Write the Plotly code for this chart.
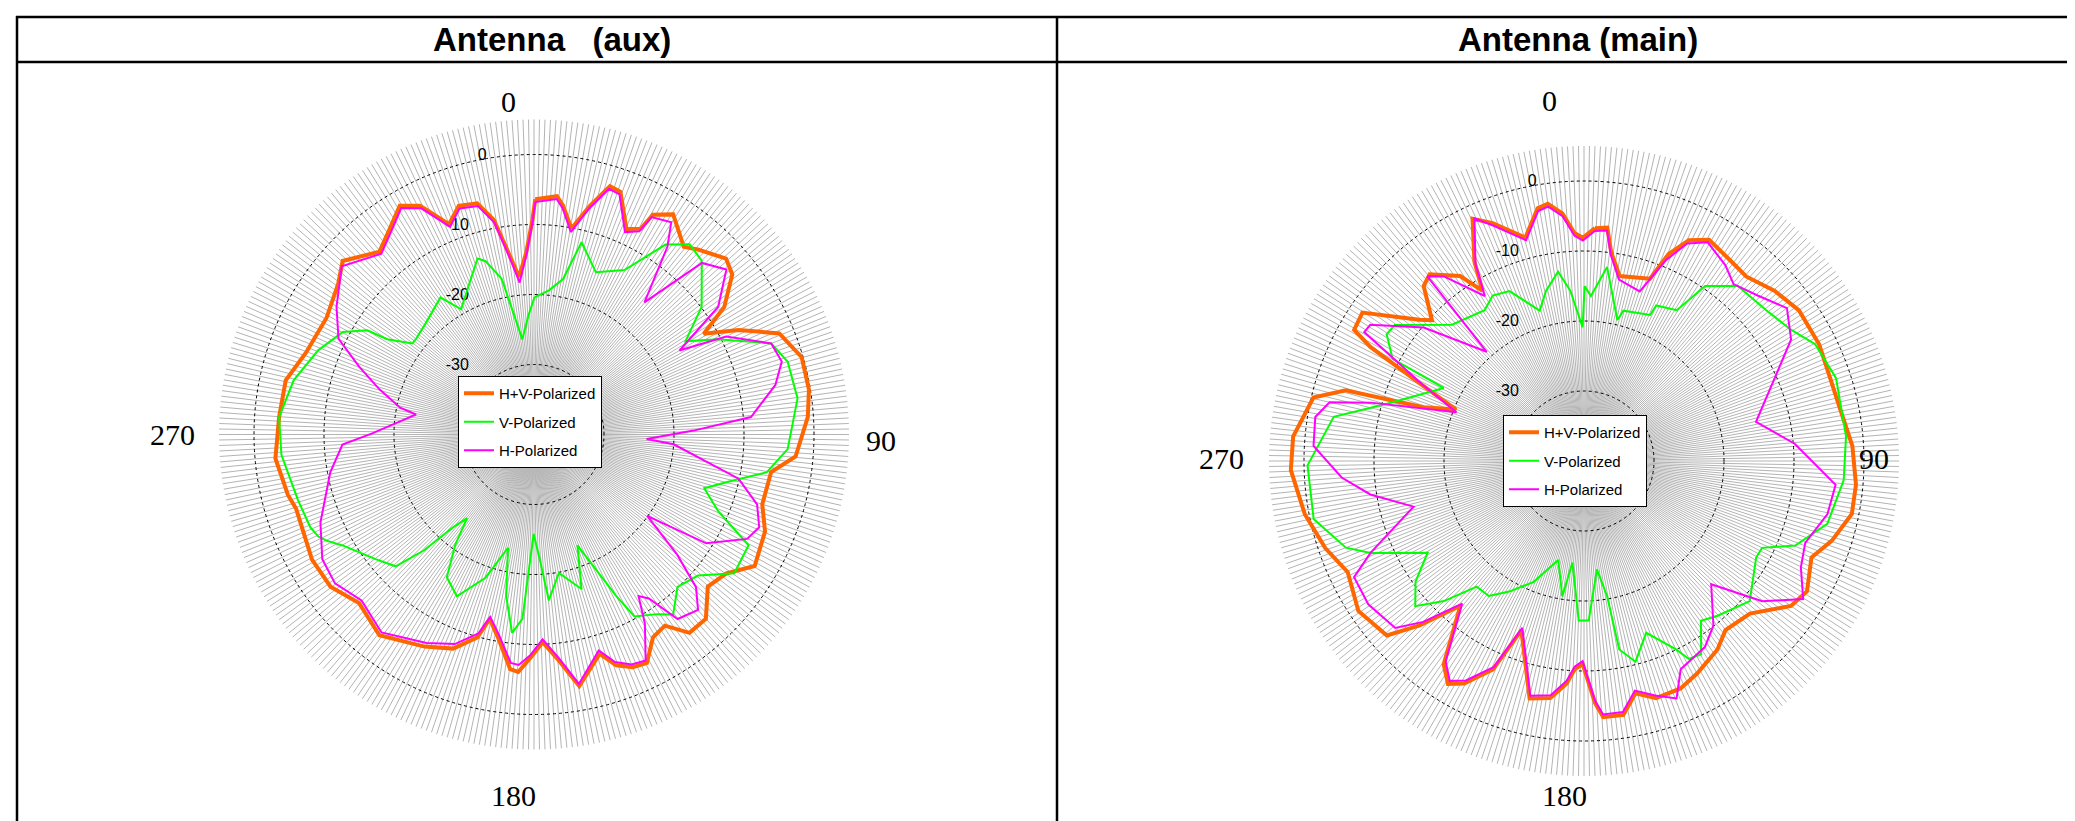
import plotly.graph_objects as go

W, H = 2075, 821

# ---------------- data (dB vs angle in degrees, 0 = top, clockwise) ----------------
# Antenna (aux)
aux_hv_theta = [0.3, 5.5, 7.2, 10.3, 13.7, 17, 19.6, 24.2, 27.4, 28.4, 32.3, 38.6, 41.5, 47.5, 51.1, 56.2, 59.3,
                62.9, 67.6, 73.9, 80.7, 86.3, 94.8, 99, 107, 112.8, 120.8, 125.8, 131.2, 137, 141.9, 145.6,
                149.6, 153.7, 157, 160.4, 163.3, 169.8, 173.7, 177.6, 180.9, 183.8, 185.8, 190, 193.5, 195.6,
                200.7, 207.3, 217.6, 226.1, 233.2, 240.6, 252.7, 256.2, 264.7, 273.9, 282.3, 289.8, 299.3,
                307.6, 312.2, 319.8, 325, 329.6, 333.5, 338, 341.8, 346.2, 349.4, 351.9, 354.6, 357.6, 359.6]
aux_hv_db = [-6.4, -5.8, -7.0, -10.1, -6.4, -2.9, -3.2, -7.8, -6.9, -4.3, -2.8, -5.7, -4.7, -2.8, -3.6, -7.3, -11.8,
             -7.2, -2.1, -0.2, -0.2, -0.8, -2.5, -5.7, -5.9, -4.2, -3.3, -6.1, -7.0, -4.0, -4.0, -6.9,
             -6.4, -3.6, -3.9, -5.0, -7.3, -3.5, -7.5, -10.3, -8.1, -6.0, -6.3, -10.5, -12.9, -9.9,
             -7.3, -5.9, -3.8, -5.3, -3.7, -3.6, -4.4, -3.8, -2.9, -3.5, -3.7, -5.4, -6.0,
             -4.7, -3.1, -5.8, -4.1, -2.1, -3.5, -7.6, -5.6, -6.0, -8.8, -13.6, -17.4, -13.9, -9.3]

aux_v_theta = [0.2, 5.9, 10.6, 13.9, 20.9, 28.8, 34.7, 39.3, 44, 52.7, 58.4, 62.6, 69, 74, 82.2, 93.3, 99.2,
               103.4, 107.5, 112.6, 117.3, 124.7, 130.7, 136.7, 142.3, 145.6, 151.1, 153, 158.6, 162.9, 169.8,
               174.9, 177, 180.2, 183.6, 186.3, 189.8, 192.9, 198.7, 205.5, 211.4, 215.5, 218.7, 221.1, 223.5,
               226.4, 231.8, 239.9, 242.9, 244.7, 247.5, 254.6, 265.4, 273.9, 282.7, 291.3, 298.2, 302, 303,
               306.8, 309, 315, 325.7, 329.8, 336.7, 342.2, 344.4, 348.3, 353, 357.3]
aux_v_db = [-20.4, -19.3, -17.4, -11.7, -15.2, -13.2, -7.0, -4.9, -5.5, -9.9, -14.6, -10.4, -3.7, -2.3, -2.0, -3.7, -6.3,
            -11.2, -14.5, -11.5, -5.5, -5.2, -9.1, -10.1, -7.5, -8.9, -10.3, -14.1, -23.0, -16.9, -19.9,
            -16.2, -21.5, -25.8, -13.6, -11.5, -16.6, -23.4, -18.4, -14.4, -16.1, -20.6, -24.7, -22.4, -17.2,
            -12.7, -11.2, -8.4, -6.7, -5.9, -5.4, -5.0, -3.8, -3.5, -4.8, -6.9, -9.0, -11.9, -15.0,
            -18.3, -18.3, -17.9, -16.3, -19.3, -16.6, -13.6, -14.3, -17.3, -26.3, -23.0]

aux_h_theta = [0.3, 5.5, 7.2, 10.3, 13.7, 17, 19.6, 24.2, 27.4, 28.4, 32.9, 35.4, 39.9, 44.4, 49.4, 55.3, 60,
               63, 69, 73.6, 78.4, 85.4, 88.6, 92.3, 94, 102.2, 107.4, 112.4, 116.1, 122.3, 125.7, 130,
               133.3, 136.9, 142.1, 145, 147.1, 149.6, 153.7, 157, 160.4, 163.3, 169.8, 173.7, 177.6, 180.9,
               183.8, 185.8, 190, 193.5, 195.6, 200.7, 207.3, 217.6, 226.1, 233.2, 239.5, 247.6, 259.5, 267,
               270.3, 275.5, 279.6, 281.3, 286.3, 291.2, 296.1, 302.9, 311.2, 319.8, 325, 329.6, 333.5, 338,
               341.8, 346.2, 349.4, 351.9, 354.6, 357.6, 359.6]
aux_h_db = [-6.8, -6.2, -7.4, -10.6, -6.8, -3.3, -3.6, -8.3, -7.3, -4.7, -3.9, -7.1, -15.4, -5.7, -3.8, -8.0, -16.0,
            -9.2, -3.7, -3.1, -4.8, -8.9, -17.2, -23.9, -20.0, -10.1, -6.6, -5.2, -6.1, -10.9, -20.1, -13.3,
            -8.2, -5.7, -6.6, -11.4, -12.5, -8.7, -4.0, -4.3, -5.5, -7.8, -3.8, -7.9, -10.7, -8.5,
            -7.0, -7.2, -11.0, -13.2, -10.5, -8.0, -6.5, -4.3, -5.8, -4.5, -4.9, -7.0, -10.4, -12.6,
            -16.8, -20.7, -22.9, -20.5, -17.0, -13.2, -8.9, -6.4, -3.5, -6.2, -4.5, -2.5, -3.9, -8.0,
            -6.0, -6.4, -9.2, -14.0, -18.2, -14.3, -9.7]

# Antenna (main)
main_hv_theta = [2.7, 5.7, 7.4, 10.9, 19.9, 22.2, 25.4, 29.5, 35.8, 41.3, 48.3, 55, 63.6, 72.5, 78.1, 86.8, 95,
                 101.2, 107.8, 113, 120.3, 125, 132.6, 140.1, 144.7, 152, 157, 163.1, 167.5, 171.2, 175.7, 177.4,
                 180.4, 182.6, 184.5, 188.1, 192.9, 200.3, 203.6, 208.3, 211.4, 214.6, 220.5, 225, 228.5, 236.4,
                 244.8, 251.4, 259.2, 268.2, 274.8, 283.2, 286.5, 288.5, 291.9, 295.3, 298.1, 299.7, 303.8,
                 310.6, 312.8, 317.5, 320.4, 326.2, 329.2, 331.2, 335.3, 339, 345.3, 349.6, 352, 355, 357.6, 359.7]
main_hv_db = [-6.7, -6.5, -9.9, -13.1, -12.3, -8.1, -5.1, -3.7, -4.5, -4.9, -3.5, -2.5, -2.5, -2.9, -2.7, -1.6, -1.0,
              -1.0, -2.8, -4.7, -3.1, -3.9, -7.8, -8.5, -7.0, -5.6, -4.7, -4.6, -6.0, -3.3, -3.3, -5.4,
              -11.0, -10.2, -8.1, -5.8, -5.2, -14.2, -7.5, -3.9, -2.7, -4.7, -12.8, -6.8, -2.4, -1.3,
              -2.7, -1.0, 0.6, 1.9, 1.7, -0.3, -4.5, -15.8, -20.3, -14.0, -5.4, -2.2, -1.9,
              -9.0, -10.4, -6.1, -5.4, -8.2, -11.7, -7.5, -1.9, -3.6, -7.0, -3.3, -2.9, -4.5, -7.4, -8.1]

main_v_theta = [0.2, 2.4, 6.8, 13.3, 14.7, 24.4, 24.9, 31.6, 34.7, 41.3, 50.5, 57.6, 63.2, 71.8, 84.6, 94.2, 104.5,
                111.8, 116, 119.3, 130.2, 139.2, 143.8, 148.8, 152.1, 153.9, 160.1, 165.6, 169.4, 170.3, 173.2,
                178.3, 181.9, 186.5, 189.1, 194.6, 202.6, 209.8, 215.2, 220.5, 225, 229.3, 234.4, 239.6, 246.7,
                250, 257.9, 269.1, 280, 286.8, 297.5, 298.1, 302.7, 305.7, 315.9, 326.6, 331.1, 336.3, 343.6,
                347.4, 352.2, 355.4, 359.4]
main_v_db = [-15.0, -16.4, -12.1, -19.3, -17.8, -17.1, -15.5, -14.7, -9.6, -6.7, -6.2, -5.0, -3.0, -2.1, -2.4, -2.8, -4.1,
             -7.5, -11.7, -11.8, -9.0, -10.8, -11.7, -7.7, -8.0, -10.0, -13.9, -10.4, -12.6, -20.4, -24.4,
             -17.2, -17.2, -25.4, -20.4, -25.4, -21.3, -18.5, -16.4, -16.4, -11.7, -8.2, -10.4, -14.1, -6.8,
             -3.8, -0.5, -0.5, -3.7, -11.2, -17.4, -9.0, -6.5, -6.7, -12.9, -14.2, -13.0, -13.5, -17.6,
             -15.1, -12.7, -15.6, -20.9]

main_h_theta = [2.7, 5.7, 7.4, 10.9, 18.2, 22.2, 25.4, 29.5, 35.8, 40.2, 46.5, 53, 59.6, 64.6, 77.2, 85.3, 95.4,
                102.3, 110.3, 116.1, 122.2, 128.2, 134.1, 141.8, 147, 155.1, 158.7, 163.1, 167.5, 171.2, 175.7,
                177.4, 180.4, 182.6, 184.5, 188.1, 192.9, 200.3, 203.6, 208.3, 211.4, 214.6, 220.5, 225, 228.5,
                236.4, 243.2, 246.7, 255, 261.1, 266.1, 273.2, 279.3, 283, 285.3, 290.9, 295.3, 300.4, 302.5,
                309.8, 318.3, 319.7, 322.8, 329, 331.2, 335.7, 339, 345.3, 349.6, 352, 355, 357.6, 359.7]
main_h_db = [-7.1, -6.9, -10.3, -13.6, -14.5, -9.0, -5.6, -4.1, -5.5, -6.9, -5.7, -3.7, -5.7, -9.2, -14.8, -9.8, -3.9,
             -4.4, -6.3, -5.5, -3.0, -7.6, -14.7, -10.1, -8.3, -7.2, -3.6, -5.0, -6.4, -3.7, -3.7,
             -5.8, -11.4, -10.6, -8.5, -6.2, -5.6, -14.6, -7.9, -4.4, -3.2, -5.2, -13.2, -7.5, -4.0,
             -3.0, -3.2, -6.8, -14.8, -9.1, -5.3, -1.3, -1.1, -2.7, -8.4, -20.5, -14.5, -3.6, -3.8,
             -10.2, -19.1, -5.4, -6.9, -12.5, -7.8, -2.0, -4.0, -7.4, -3.7, -3.3, -4.9, -7.8, -8.5]

series_names = ["H+V-Polarized", "V-Polarized", "H-Polarized"]
series_colors = ["#FF6600", "#00FF00", "#FF00FF"]
series_widths = [4, 2, 2]

radial_ticks = [-30, -20, -10, 0]
radial_ticktext = ["-30", "-20", "-10", "0"]
angle_labels = ["0", "90", "180", "270"]
panel_titles = ["Antenna\u00a0\u00a0\u00a0(aux)", "Antenna (main)"]

# ---------------- figure ----------------
fig = go.Figure()

panels = [
    ("polar", "legend", [(aux_hv_theta, aux_hv_db), (aux_v_theta, aux_v_db), (aux_h_theta, aux_h_db)]),
    ("polar2", "legend2", [(main_hv_theta, main_hv_db), (main_v_theta, main_v_db), (main_h_theta, main_h_db)]),
]
for sub, leg, series in panels:
    for i, (th, r) in enumerate(series):
        fig.add_trace(go.Scatterpolar(
            theta=list(th) + [th[0]], r=list(r) + [r[0]],
            mode="lines", name=series_names[i],
            line=dict(color=series_colors[i], width=series_widths[i]),
            subplot=sub, legend=leg, legendgroup=sub + str(i),
            hoverinfo="skip",
        ))


def px_x(x):
    return x / W


def px_y(y):
    return 1 - y / H


# Excel-style value labels sit to the left of the vertical axis: pad with figure spaces
pad = "\u2007"
tick_labels_padded = [t + pad * (5 if len(t) == 1 else 7) for t in radial_ticktext]


def polar_cfg(cx, cy, rad):
    return dict(
        domain=dict(x=[px_x(cx - rad), px_x(cx + rad)], y=[px_y(cy + rad), px_y(cy - rad)]),
        bgcolor="white",
        radialaxis=dict(range=[-40, 5], tickmode="array", tickvals=radial_ticks, ticktext=tick_labels_padded,
                        angle=90, tickangle=90, side="counterclockwise", showline=False, ticks="",
                        gridcolor="black", gridwidth=1, griddash="dot", layer="below traces",
                        tickfont=dict(family="Arial", size=16, color="black")),
        angularaxis=dict(rotation=90, direction="clockwise", tickmode="array", tickvals=list(range(360)),
                         showticklabels=False, ticks="", showline=False, gridcolor="#b4b4b4", gridwidth=1.2,
                         layer="below traces"),
    )


legend_common = dict(bgcolor="white", bordercolor="black", borderwidth=1,
                     font=dict(family="Arial", size=15, color="black"),
                     xanchor="left", yanchor="top", tracegroupgap=6, itemwidth=30)

fig.update_layout(
    width=W, height=H, margin=dict(l=0, r=0, t=0, b=0),
    paper_bgcolor="white", plot_bgcolor="white",
    showlegend=True,
    polar=polar_cfg(526, 426.5, 315),
    polar2=polar_cfg(1576, 453, 315),
    legend=dict(x=px_x(450), y=px_y(368), **legend_common),
    legend2=dict(x=px_x(1495), y=px_y(407), **legend_common),
)

# table borders
lines = [
    (8, 9, W, 9), (8, 54, W, 54), (9, 8, 9, H), (1049, 8, 1049, H),
]
for x0, y0, x1, y1 in lines:
    fig.add_shape(type="line", xref="paper", yref="paper", x0=px_x(x0), y0=px_y(y0), x1=px_x(x1), y1=px_y(y1),
                  line=dict(color="black", width=2.5))

# titles
for txt, cx in zip(panel_titles, [544, 1570]):
    fig.add_annotation(text="<b>" + txt + "</b>", xref="paper", yref="paper", x=px_x(cx), y=px_y(31),
                       showarrow=False, font=dict(family="Arial", size=33, color="black"),
                       xanchor="center", yanchor="middle")

# angle labels
aux_pos = [(500, 93), (873, 432), (505, 787), (164, 427)]
main_pos = [(1541, 92), (1866, 450), (1556, 787), (1213, 450)]
for pos in (aux_pos, main_pos):
    for lab, (x, y) in zip(angle_labels, pos):
        fig.add_annotation(text=lab, xref="paper", yref="paper", x=px_x(x), y=px_y(y), showarrow=False,
                           font=dict(family="Times New Roman, Liberation Serif, serif", size=30, color="black"),
                           xanchor="center", yanchor="middle")

fig.write_html("out.html")
